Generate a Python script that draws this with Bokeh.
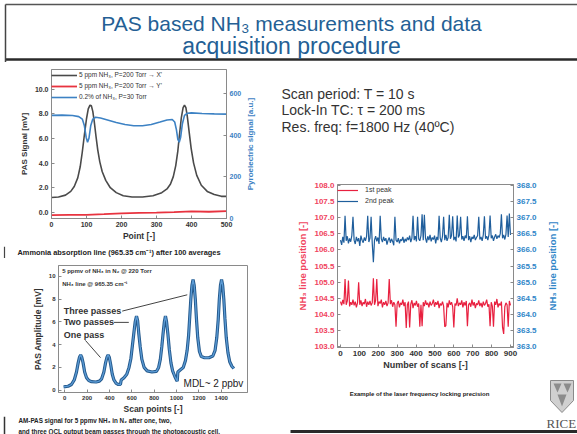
import math
from bokeh.plotting import figure
from bokeh.models import Range1d, LinearAxis, FixedTicker, Legend, LegendItem, NumeralTickFormatter
from bokeh.layouts import column, row
from bokeh.core.properties import value
from bokeh.embed import file_html
from bokeh.resources import INLINE

FONT = "Liberation Sans"
TXT = "#333333"

# ---------------- data: chart 1 (absorption line) ----------------
c1_x_ticks = [0, 100, 200, 300, 400, 500]
c1_left_ticks = [0, 2, 4, 6, 8, 10]
c1_right_ticks = [0, 200, 400, 600]
c1_pts = [0, 20, 40, 55, 65, 75, 82, 88, 94, 100, 105, 110, 114, 118, 122, 127, 132, 138, 145, 155,
          168, 185, 205, 230, 260, 290, 315, 330, 340, 348, 355, 361, 366, 371, 376, 380, 384, 388,
          393, 399, 406, 415, 428, 445, 465, 485, 500]
c1_xsig = [1.2, 1.25, 1.4, 1.7, 2.1, 2.8, 3.7, 4.9, 6.3, 7.6, 8.4, 8.7, 8.65, 8.2, 7.4, 6.2, 5.1, 4.1,
           3.3, 2.6, 2.0, 1.6, 1.35, 1.25, 1.25, 1.35, 1.6, 1.9, 2.3, 2.9, 3.8, 5.0, 6.4, 7.7, 8.5,
           8.7, 8.5, 7.8, 6.6, 5.2, 4.0, 3.0, 2.2, 1.7, 1.45, 1.3, 1.3]
c1_ypts = [0, 50, 100, 150, 200, 250, 300, 350, 400, 450, 500]
c1_ysig = [-0.22, -0.2, -0.2, -0.15, -0.08, -0.05, -0.02, 0.02, 0.08, 0.05, 0.1]
c1_pyro_pts = [0, 30, 60, 78, 88, 94, 99, 103, 107, 112, 118, 126, 140, 160, 185, 210, 235, 260, 285,
               310, 330, 345, 352, 357, 361, 365, 369, 374, 380, 388, 400, 430, 465, 500]
c1_pyro = [495, 496, 494, 489, 477, 445, 390, 366, 385, 445, 477, 486, 482, 473, 461, 451, 445, 445,
           451, 463, 473, 475, 463, 425, 380, 366, 390, 455, 495, 505, 507, 504, 502, 501]
c1_labels = ["5 ppm NH\u2083, P=200 Torr \u2192 X'", "5 ppm NH\u2083, P=200 Torr \u2192 Y'",
             "0.2% of NH\u2083, P=30 Torr"]

# ---------------- data: chart 2 (AM-PAS passes) ----------------
c2_x_ticks = [0, 200, 400, 600, 800, 1000, 1200, 1400]
c2_y_ticks = [0, 2, 4, 6, 8, 10]
c2_scan = [-10, 30, 60, 85, 105, 120, 132, 142, 152, 164, 178, 195, 215, 240, 280, 310, 330, 350, 365,
           378, 388, 398, 410, 425, 440, 460, 480, 498,
           505, 530, 555, 575, 592, 605, 618, 630, 642, 652, 662, 675, 690, 710, 737, 780, 820, 840,
           855, 868, 880, 891, 901, 911, 922, 935, 950, 965, 985, 1000, 1006,
           1012, 1035, 1060, 1080, 1095, 1108, 1118, 1128, 1138, 1148, 1158, 1168, 1178, 1190, 1205,
           1222, 1250, 1290, 1325, 1345, 1360, 1373, 1383, 1393, 1403, 1413, 1423, 1433, 1445, 1460,
           1476, 1495, 1513]
c2_amp = [0.3, 0.35, 0.5, 0.9, 1.6, 2.4, 2.9, 3.1, 2.9, 2.4, 1.6, 1.1, 0.85, 0.75, 0.72, 0.8, 1.0, 1.6,
          2.4, 2.9, 3.1, 2.9, 2.3, 1.4, 0.9, 0.6, 0.5, 0.5,
          0.9, 1.1, 1.4, 2.0, 2.8, 3.9, 5.0, 6.0, 6.5, 6.1, 5.0, 3.8, 2.7, 2.0, 1.7, 1.6, 1.65, 2.0,
          2.7, 3.8, 5.0, 6.0, 6.5, 6.0, 5.0, 3.6, 2.4, 1.7, 1.2, 0.9, 0.8,
          1.6, 1.8, 2.0, 2.6, 3.5, 4.8, 6.4, 8.0, 9.2, 9.7, 9.2, 8.0, 6.3, 4.6, 3.4,
          2.95, 2.85, 2.85, 3.0, 3.5, 4.6, 6.2, 8.0, 9.2, 9.7, 9.2, 8.0, 6.3, 4.6, 3.3,
          2.5, 2.1, 1.9]
c2_notes = ["5 ppmv of NH\u2083 in N\u2082 @ 220 Torr", "NH\u2083 line @ 965.35 cm\u207b\u00b9"]
c2_notes_x = [-23, -23]
c2_notes_y = [10.43, 9.31]
c2_pass_labels = ["Three passes", "Two passes", "One pass"]
c2_pass_x = [-9, -9, -9]
c2_pass_y = [6.94, 5.95, 4.86]
c2_ptr_x0 = [514, 439, 185]
c2_ptr_y0 = [6.94, 5.95, 4.37]
c2_ptr_x1 = [1096, 573, 320]
c2_ptr_y1 = [8.37, 5.95, 2.86]
c2_mdl = "MDL~ 2 ppbv"
c2_mdl_x = 1063
c2_mdl_y = 0.57

# ---------------- data: chart 3 (locking precision) ----------------
c3_x_ticks = [0, 100, 200, 300, 400, 500, 600, 700, 800, 900]
c3_left_ticks = [103.0, 103.5, 104.0, 104.5, 105.0, 105.5, 106.0, 106.5, 107.0, 107.5, 108.0]
c3_right_ticks = [363.0, 363.5, 364.0, 364.5, 365.0, 365.5, 366.0, 366.5, 367.0, 367.5, 368.0]
c3_scans = list(range(0, 901, 6))
c3_peak1 = [
    104.40, 104.28, 104.45, 104.32, 105.10, 104.30, 104.42, 105.05, 104.25, 104.38,
    104.30, 104.46, 104.28, 104.40, 104.22, 104.36, 105.00, 104.30, 104.44, 104.26,
    104.38, 104.32, 104.48, 104.24, 104.40, 104.30, 104.42, 104.28, 104.36, 105.12,
    104.30, 104.44, 105.10, 104.26, 104.40, 104.34, 104.46, 104.22, 104.38, 104.30,
    104.42, 104.26, 104.36, 105.10, 104.32, 104.44, 104.24, 104.38, 104.30, 103.62,
    104.34, 104.42, 104.22, 104.36, 104.30, 104.46, 104.26, 104.38, 103.58, 104.30,
    104.40, 103.60, 104.32, 104.44, 104.20, 104.36, 104.28, 104.42, 104.24, 104.34,
    103.62, 104.30, 103.64, 104.38, 104.26, 104.44, 104.30, 104.36, 104.22, 104.40,
    104.28, 104.34, 104.46, 104.24, 104.38, 104.30, 104.42, 104.20, 104.34, 104.28,
    104.40, 104.26, 103.62, 103.66, 104.36, 104.22, 104.44, 104.30, 104.38, 104.24,
    103.60, 104.34, 104.28, 104.50, 104.26, 104.36, 104.30, 104.44, 104.22, 104.38,
    104.28, 104.42, 103.64, 104.30, 104.36, 104.24, 104.46, 104.28, 104.38, 104.20,
    104.34, 104.30, 104.44, 104.26, 104.36, 104.22, 104.40, 104.28, 104.34, 104.46,
    104.24, 104.32, 103.64, 104.38, 104.26, 103.62, 104.40, 104.30, 104.48, 104.22,
    104.34, 104.28, 104.40, 103.60, 103.40, 104.24, 104.36, 104.30, 103.62, 104.42,
    104.28]
c3_peak2 = [
    366.30, 366.15, 366.40, 366.22, 367.05, 366.28, 366.42, 366.20, 366.35, 366.25,
    366.45, 367.02, 366.30, 366.18, 366.40, 366.26, 366.36, 366.12, 366.44, 366.30,
    366.22, 366.38, 366.28, 366.42, 367.05, 366.24, 366.36, 367.02, 366.20, 365.62,
    366.30, 366.42, 366.26, 366.38, 366.18, 367.05, 366.34, 366.24, 366.40, 366.28,
    366.36, 366.16, 366.30, 366.38, 366.22, 366.34, 366.26, 366.14, 367.02, 366.30,
    366.24, 366.36, 366.20, 366.32, 366.28, 366.40, 366.22, 366.34, 366.26, 366.38,
    366.30, 366.44, 366.24, 366.36, 367.05, 366.30, 366.42, 366.26, 367.02, 366.34,
    366.28, 366.44, 367.10, 366.30, 367.08, 366.36, 366.22, 366.42, 366.30, 366.46,
    366.26, 366.38, 366.32, 366.44, 366.20, 366.40, 366.30, 367.05, 366.36, 366.24,
    366.42, 367.02, 366.30, 366.46, 366.28, 366.38, 367.08, 366.34, 366.44, 367.04,
    366.30, 366.40, 366.26, 367.06, 366.38, 366.46, 367.02, 366.32, 366.42, 366.28,
    366.44, 366.36, 367.04, 366.30, 366.42, 366.24, 366.40, 366.34, 366.46, 366.30,
    366.38, 366.44, 367.02, 366.32, 366.40, 366.28, 366.46, 367.04, 366.34, 366.42,
    366.30, 366.46, 367.06, 366.36, 366.44, 366.28, 366.40, 366.48, 366.34, 366.44,
    366.38, 366.50, 367.10, 366.36, 366.46, 366.32, 366.48, 367.06, 366.40, 367.12,
    366.46]

# ---------------- texts ----------------
title_lines = ["PAS based NH\u2083 measurements and data", "acquisition procedure"]
info_lines = ["Scan period: T = 10 s", "Lock-In TC: \u03c4 = 200 ms", "Res. freq: f=1800 Hz (40\u00baC)"]
cap1_text = "Ammonia absorption line (965.35 cm\u207b\u00b9) after 100 averages"
cap2_lines = ["AM-PAS signal for 5 ppmv NH\u2083 in N\u2082 after one, two,",
              "and three QCL output beam passes through the photoacoustic cell."]
cap3_text = "Example of the laser frequency locking precision"
c1_right_label = "Pyroelectric signal [a.u.]"
c3_right_label = "NH\u2083 line position [-]"


def panel(w, h, top=0, bottom=0, yr=None):
    p = figure(width=w, height=h, x_range=Range1d(0, w),
               y_range=yr if yr is not None else Range1d(h, 0),
               x_axis_type=None, y_axis_type=None, toolbar_location=None,
               output_backend="svg", min_border_left=0, min_border_right=0,
               min_border_top=top, min_border_bottom=bottom, outline_line_color=None)
    return p


def style_axis(ax, size, color=TXT, label_size="8px", label_color=TXT):
    ax.major_label_text_font = FONT
    ax.major_label_text_font_size = size
    ax.major_label_text_font_style = "bold"
    ax.major_label_text_color = color
    ax.axis_label_text_font = FONT
    ax.axis_label_text_font_size = label_size
    ax.axis_label_text_font_style = "bold"
    ax.axis_label_text_color = label_color
    ax.major_tick_in = 3
    ax.major_tick_out = 0
    ax.minor_tick_in = 0
    ax.minor_tick_out = 0
    ax.axis_line_color = "#8a8a8a"
    ax.major_tick_line_color = "#8a8a8a"
    ax.major_label_standoff = 3
    ax.axis_label_standoff = 3


# ---------------- title ----------------
pt = panel(577, 62)
pt.segment(x0=[5, 5, 5], y0=[4, 59, 4], x1=[577, 577, 5], y1=[4, 59, 62],
           line_color=["#555555", "#2a2a2a", "#444444"], line_width=[1.5, 2.5, 1.5])
pt.text(x=[291], y=[23], text=[title_lines[0]], text_align="center", text_baseline="middle",
        text_font=value(FONT), text_font_size="21px", text_color="#245f95")
pt.text(x=[291], y=[45], text=[title_lines[1]], text_align="center", text_baseline="middle",
        text_font=value(FONT), text_font_size="23px", text_color="#245f95")

# ---------------- chart 1 ----------------
p1 = figure(width=244, height=184, x_range=Range1d(0, 500), y_range=Range1d(-0.5, 11.6),
            toolbar_location=None, output_backend="svg",
            min_border_left=51, min_border_right=16, min_border_top=7, min_border_bottom=28)
p1.extra_y_ranges = {"pyro": Range1d(0, 715)}
p1.outline_line_color = "#8a8a8a"
p1.grid.visible = False
r1a = p1.line(c1_pts, c1_xsig, line_color="#4a4a4a", line_width=1.6)
r1b = p1.line(c1_ypts, c1_ysig, line_color="#e8333f", line_width=1.8)
r1c = p1.line(c1_pyro_pts, c1_pyro, line_color="#3d82c4", line_width=1.6, y_range_name="pyro")
p1.xaxis.ticker = FixedTicker(ticks=c1_x_ticks)
p1.yaxis.ticker = FixedTicker(ticks=c1_left_ticks)
p1.yaxis.formatter = NumeralTickFormatter(format="0.0")
p1.xaxis.axis_label = "Point [-]"
p1.yaxis.axis_label = "PAS Signal [mV]"
ax1r = LinearAxis(y_range_name="pyro", ticker=FixedTicker(ticks=c1_right_ticks))
p1.add_layout(ax1r, "right")
for ax in p1.xaxis:
    style_axis(ax, "7px", label_size="8.5px")
    ax.axis_label_standoff = 1
for ax in p1.yaxis:
    style_axis(ax, "7px", label_size="8px")
style_axis(ax1r, "7px", color="#3d82c4")
leg1 = Legend(items=[LegendItem(label=c1_labels[0], renderers=[r1a]),
                     LegendItem(label=c1_labels[1], renderers=[r1b]),
                     LegendItem(label=c1_labels[2], renderers=[r1c])],
              location="top_left", border_line_color=None, background_fill_alpha=0,
              label_text_font=FONT, label_text_font_size="6.5px", label_text_color=TXT,
              glyph_width=26, glyph_height=8, label_height=11, spacing=0, padding=1, margin=0,
              label_standoff=2)
p1.add_layout(leg1)

lab1 = panel(34, 184, top=7, bottom=28, yr=Range1d(0, 1))
lab1.text(x=[6], y=[0.5], text=[c1_right_label], angle=math.pi / 2, text_align="center",
          text_baseline="middle", text_font=value(FONT), text_font_size="8px",
          text_font_style="bold", text_color="#3d82c4")

# ---------------- caption 1 ----------------
pc1 = panel(278, 12)
pc1.text(x=[17], y=[6], text=[cap1_text], text_baseline="middle", text_font=value(FONT),
         text_font_size="7.4px", text_font_style="bold", text_color="#222222")
pc1.segment(x0=[4], y0=[0], x1=[4], y1=[12], line_color="#444444", line_width=1.2)

# ---------------- chart 2 ----------------
p2 = figure(width=278, height=158, x_range=Range1d(-56, 1635), y_range=Range1d(-0.2, 10.94),
            toolbar_location=None, output_backend="svg",
            min_border_left=58, min_border_right=31, min_border_top=7, min_border_bottom=21)
p2.outline_line_color = "#8a8a8a"
p2.grid.visible = False
p2.line(c2_scan, c2_amp, line_color="#24598c", line_width=3.2)
p2.line(c2_scan, c2_amp, line_color="#5b9bd5", line_width=1.3)
p2.xaxis.ticker = FixedTicker(ticks=c2_x_ticks)
p2.yaxis.ticker = FixedTicker(ticks=c2_y_ticks)
p2.xaxis.axis_label = "Scan points [-]"
p2.yaxis.axis_label = "PAS Amplitude [mV]"
for ax in p2.xaxis:
    style_axis(ax, "6px", label_size="8.5px")
    ax.axis_label_standoff = 1
for ax in p2.yaxis:
    style_axis(ax, "6px", label_size="8.5px")
p2.text(x=c2_notes_x, y=c2_notes_y, text=c2_notes, text_baseline="middle", text_font=value(FONT),
        text_font_size="6px", text_font_style="bold", text_color=TXT)
p2.text(x=c2_pass_x, y=c2_pass_y, text=c2_pass_labels, text_baseline="middle", text_font=value(FONT),
        text_font_size="9px", text_font_style="bold", text_color=TXT)
p2.segment(x0=c2_ptr_x0, y0=c2_ptr_y0, x1=c2_ptr_x1, y1=c2_ptr_y1, line_color="#444444", line_width=1)
p2.text(x=[c2_mdl_x], y=[c2_mdl_y], text=[c2_mdl], text_baseline="middle", text_font=value(FONT),
        text_font_size="10px", text_color="#222222")

# ---------------- caption 2 ----------------
pc2 = panel(278, 18)
pc2.text(x=[18, 18], y=[4, 14.5], text=cap2_lines, text_baseline="middle", text_font=value(FONT),
         text_font_size="6.3px", text_font_style="bold", text_color="#222222")
pc2.segment(x0=[4], y0=[0], x1=[4], y1=[18], line_color="#333333", line_width=1.5)

# ---------------- info text ----------------
pi = panel(299, 110)
pi.text(x=[3, 3, 3], y=[31.5, 47.5, 64], text=info_lines, text_baseline="middle",
        text_font=value(FONT), text_font_size="14px", text_color="#333333")

# ---------------- chart 3 ----------------
RED = "#e8203f"
BLUE = "#1f5e9c"
p3 = figure(width=264, height=200, x_range=Range1d(-16, 916), y_range=Range1d(102.98, 108.02),
            toolbar_location=None, output_backend="svg",
            min_border_left=59, min_border_right=29, min_border_top=12, min_border_bottom=23)
p3.extra_y_ranges = {"second": Range1d(362.98, 368.02)}
p3.outline_line_color = "#8a8a8a"
p3.grid.visible = False
r3a = p3.line(c3_scans, c3_peak1, line_color=RED, line_width=1.2)
r3b = p3.line(c3_scans, c3_peak2, line_color=BLUE, line_width=1.2, y_range_name="second")
p3.xaxis.ticker = FixedTicker(ticks=c3_x_ticks)
p3.yaxis.ticker = FixedTicker(ticks=c3_left_ticks)
p3.yaxis.formatter = NumeralTickFormatter(format="0.0")
p3.xaxis.axis_label = "Number of scans [-]"
p3.yaxis.axis_label = "NH\u2083 line position [-]"
ax3r = LinearAxis(y_range_name="second", ticker=FixedTicker(ticks=c3_right_ticks),
                  formatter=NumeralTickFormatter(format="0.0"))
p3.add_layout(ax3r, "right")
for ax in p3.xaxis:
    style_axis(ax, "8px", label_size="9px")
    ax.axis_label_standoff = 1
for ax in p3.yaxis:
    style_axis(ax, "8px", color="#f0445e", label_size="9.5px", label_color="#f0445e")
style_axis(ax3r, "8px", color="#2f86c8")
leg3 = Legend(items=[LegendItem(label="1st peak", renderers=[r3a]),
                     LegendItem(label="2nd peak", renderers=[r3b])],
              location="top_left", border_line_color=None, background_fill_alpha=0,
              label_text_font=FONT, label_text_font_size="7px", label_text_color=TXT,
              glyph_width=21, glyph_height=8, label_height=11, spacing=0, padding=3, margin=0,
              label_standoff=7)
p3.add_layout(leg3)

lab3 = panel(35, 200, top=12, bottom=23, yr=Range1d(0, 1))
lab3.text(x=[10], y=[0.5], text=[c3_right_label], angle=math.pi / 2, text_align="center",
          text_baseline="middle", text_font=value(FONT), text_font_size="9.5px",
          text_font_style="bold", text_color="#2f86c8")

# ---------------- caption 3 + logo ----------------
pc3 = panel(299, 62)
pc3.text(x=[141], y=[21], text=[cap3_text], text_align="center", text_baseline="middle",
         text_font=value(FONT), text_font_size="6px", text_font_style="bold", text_color="#222222")
pc3.patch(x=[272, 295, 295, 283.5, 272], y=[8, 8, 28, 40, 28], fill_color="#d0d0d0",
          line_color="#8a8a8a", line_width=1)
pc3.patches(xs=[[275, 283, 279], [285, 293, 289], [279, 288, 283.5]],
            ys=[[11, 11, 20], [11, 11, 20], [22, 22, 34]], fill_color="#8c8c8c", line_color=None)
pc3.text(x=[268], y=[51], text=["RICE"], text_baseline="middle",
         text_font=value("Liberation Serif"), text_font_size="13px", text_color="#555555")
pc3.segment(x0=[12], y0=[59], x1=[299], y1=[59], line_color="#2a2a2a", line_width=3)

left_col = column(row(p1, lab1), row(pc1), row(p2), row(pc2))
right_col = column(row(pi), row(p3, lab3), row(pc3))
layout = column(pt, row(left_col, right_col))

open("out.html", "w").write(file_html(layout, INLINE))
